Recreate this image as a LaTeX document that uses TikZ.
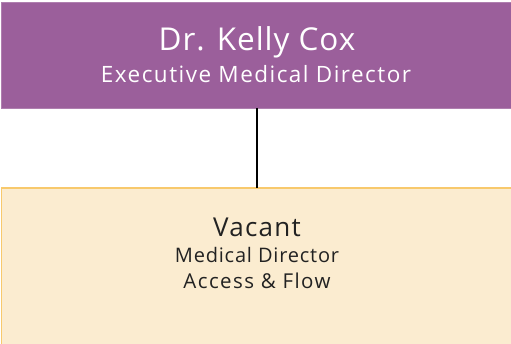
\documentclass[tikz,border=0pt]{standalone}
\usepackage{fontspec}
\setmainfont{Open Sans}
\definecolor{topfill}{HTML}{9B5F9B}
\definecolor{botfill}{HTML}{FBECD0}
\definecolor{botline}{HTML}{F8C96C}
\definecolor{txt}{HTML}{222222}
\tikzset{
  box/.style={draw=none, inner sep=0pt, outer sep=0pt},
  tline/.style={anchor=base, inner sep=0pt, font=#1},
  link/.style={draw=black, line width=1.2pt}
}
\begin{document}
\begin{tikzpicture}[x=1pt,y=1pt]
\useasboundingbox (0,0) rectangle (511,343);
\clip (0,0) rectangle (511,343);
\node[box, fill=topfill, draw=topfill!80!white, line width=0.8pt, minimum width=511pt, minimum height=106pt, anchor=north west] (top) at (1,341) {};
\node[box, fill=botfill, draw=botline, line width=1.2pt, minimum width=511pt, minimum height=170pt, anchor=north west] (bot) at (1.5,155) {};
\draw[link] (top.south -| 257,0) -- (bot.north -| 257,0);
\node[tline=\fontsize{31.5}{34}\selectfont\addfontfeatures{LetterSpace=3}, text=white] (t1) at (257,292) {Dr. Kelly Cox};
\node[tline=\fontsize{22.5}{25}\selectfont\addfontfeatures{LetterSpace=6.5}, text=white] (t2) at (256,260) {Executive Medical Director};
\node[tline=\fontsize{26}{28}\selectfont\addfontfeatures{LetterSpace=5}, text=txt] (b1) at (257,107) {Vacant};
\node[tline=\fontsize{20}{22}\selectfont\addfontfeatures{LetterSpace=4}, text=txt] (b2) at (257,81) {Medical Director};
\node[tline=\fontsize{20.5}{22}\selectfont\addfontfeatures{LetterSpace=7}, text=txt] (b3) at (257,55) {Access \& Flow};
\end{tikzpicture}
\end{document}
